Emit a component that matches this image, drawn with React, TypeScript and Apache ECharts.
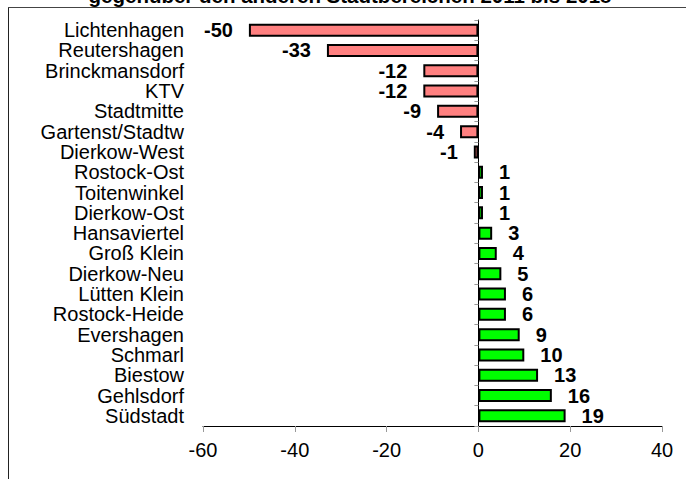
import React, { useEffect, useRef } from "react";
import * as echarts from "echarts";

const titleText = "gegenüber den anderen Stadtbereichen 2011 bis 2018";

const districts = [
  "Lichtenhagen",
  "Reutershagen",
  "Brinckmansdorf",
  "KTV",
  "Stadtmitte",
  "Gartenst/Stadtw",
  "Dierkow-West",
  "Rostock-Ost",
  "Toitenwinkel",
  "Dierkow-Ost",
  "Hansaviertel",
  "Groß Klein",
  "Dierkow-Neu",
  "Lütten Klein",
  "Rostock-Heide",
  "Evershagen",
  "Schmarl",
  "Biestow",
  "Gehlsdorf",
  "Südstadt",
];

const values = [-50, -33, -12, -12, -9, -4, -1, 1, 1, 1, 3, 4, 5, 6, 6, 9, 10, 13, 16, 19];

const xMin = -60;
const xMax = 40;
const xStep = 20;

const FONT = "Arial, 'Liberation Sans', Helvetica, sans-serif";

export default function App() {
  const ref = useRef<HTMLDivElement>(null);

  useEffect(() => {
    if (!ref.current) return;
    const chart = echarts.init(ref.current, null, { renderer: "svg" });

    const data = values.map((v) => ({
      value: v,
      itemStyle: { color: v < 0 ? "#FF8080" : "#00FF00" },
      label: { position: v < 0 ? "left" : "right", distance: 16 },
    }));

    chart.setOption({
      animation: false,
      backgroundColor: "#ffffff",
      textStyle: { fontFamily: FONT },
      graphic: [
        {
          type: "text",
          x: 350,
          y: 5.5,
          style: {
            text: titleText,
            align: "center",
            verticalAlign: "bottom",
            font: `bold 20.5px ${FONT}`,
            fill: "#000",
          },
        },
        {
          type: "line",
          shape: { x1: 8.5, y1: 7.5, x2: 8.5, y2: 479 },
          style: { stroke: "#222", lineWidth: 1 },
        },
        {
          type: "line",
          shape: { x1: 8, y1: 7.5, x2: 686, y2: 7.5 },
          style: { stroke: "#444", lineWidth: 1 },
        },
      ],
      grid: { left: 203, right: 24, top: 20, bottom: 53, containLabel: false },
      xAxis: {
        type: "value",
        min: xMin,
        max: xMax,
        interval: xStep,
        splitLine: { show: false },
        axisLine: { show: true, lineStyle: { color: "#000", width: 1 } },
        axisTick: { show: true, length: 6, lineStyle: { color: "#999" } },
        axisLabel: { color: "#000", fontSize: 20, margin: 14, fontFamily: FONT },
      },
      yAxis: [
        {
          type: "category",
          data: districts,
          inverse: true,
          position: "left",
          axisLine: { show: false, onZero: false },
          axisTick: { show: false },
          axisLabel: {
            color: "#000",
            fontSize: 20,
            margin: 19,
            fontFamily: FONT,
            interval: 0,
            lineHeight: 20,
          },
        },
        {
          type: "category",
          data: districts,
          inverse: true,
          position: "right",
          axisLine: { show: true, onZero: true, lineStyle: { color: "#000", width: 1 } },
          axisTick: { show: true, inside: true, length: 4, interval: 0, lineStyle: { color: "#999" } },
          axisLabel: { show: false },
        },
      ],
      series: [
        {
          type: "bar",
          data,
          barWidth: 13,
          itemStyle: { borderColor: "#000", borderWidth: 2 },
          label: {
            show: true,
            color: "#000",
            fontSize: 20,
            fontWeight: "bold",
            fontFamily: FONT,
          },
        },
      ],
    });

    return () => chart.dispose();
  }, []);

  return (
    <div
      ref={ref}
      style={{ position: "absolute", left: 0, top: 0, width: 686, height: 479 }}
    />
  );
}
